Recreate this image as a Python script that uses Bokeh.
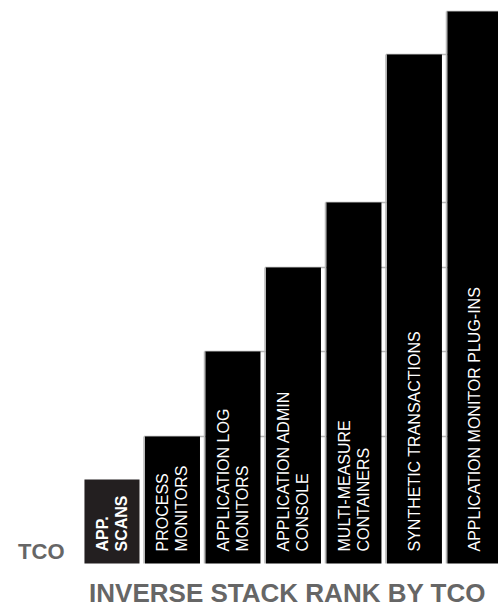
import math
from bokeh.plotting import figure
from bokeh.models import ColumnDataSource, Label, Range1d
from bokeh.core.properties import value
from bokeh.embed import file_html
from bokeh.resources import INLINE

categories = ["APP.\nSCANS", "PROCESS\nMONITORS", "APPLICATION LOG\nMONITORS",
              "APPLICATION ADMIN\nCONSOLE", "MULTI-MEASURE\nCONTAINERS",
              "SYNTHETIC TRANSACTIONS", "APPLICATION MONITOR PLUG-INS"]
tco = [84, 127, 212, 296, 361, 509, 552]
x_title = "INVERSE STACK RANK BY TCO"
y_title = "TCO"

n = len(tco)
idx = list(range(n))
colors = ["#231f20"] + ["#000000"] * (n - 1)
weights = ["bold"] + ["normal"] * (n - 1)

p = figure(width=498, height=608, output_backend="svg", toolbar_location=None,
           x_range=Range1d(-1.843, 6.39), y_range=Range1d(-45, 563),
           min_border=0, outline_line_color=None)
p.axis.visible = False
p.grid.visible = False
p.background_fill_color = "white"
p.border_fill_color = "white"

# staircase guide lines (behind bars)
g = idx[1:]
gh = ColumnDataSource(dict(x0=[i - 0.47 for i in g], x1=[n + 1] * len(g),
                           y=[tco[i] for i in g]))
p.segment(x0="x0", y0="y", x1="x1", y1="y", source=gh, line_color="#b5b5b5", line_width=1.5)
gv = ColumnDataSource(dict(x=[i - 0.47 for i in g], y0=[0] * len(g), y1=[tco[i] for i in g]))
p.segment(x0="x", y0="y0", x1="x", y1="y1", source=gv, line_color="#b5b5b5", line_width=1.5)

src = ColumnDataSource(dict(x=idx, top=tco, color=colors, label=categories, weight=weights,
                            ly=[12] * n))
p.vbar(x="x", top="top", bottom=0, width=0.91, source=src, fill_color="color", line_color=None)

p.text(x="x", y="ly", text="label", source=src, angle=math.pi / 2,
       text_align="left", text_baseline="middle", text_color="white",
       text_font=value("Liberation Sans"), text_font_size="16px",
       text_font_style="weight", text_line_height=1.12)

p.add_layout(Label(x=64, y=57, x_units="screen", y_units="screen", text=y_title,
                   text_align="right", text_baseline="alphabetic",
                   text_font="Liberation Sans", text_font_style="bold",
                   text_font_size="22px", text_color="#666666"))
p.add_layout(Label(x=287, y=16, x_units="screen", y_units="screen", text=x_title,
                   text_align="center", text_baseline="alphabetic",
                   text_font="Liberation Sans", text_font_style="bold",
                   text_font_size="26px", text_color="#666666"))

open("out.html", "w").write(file_html(p, INLINE))
